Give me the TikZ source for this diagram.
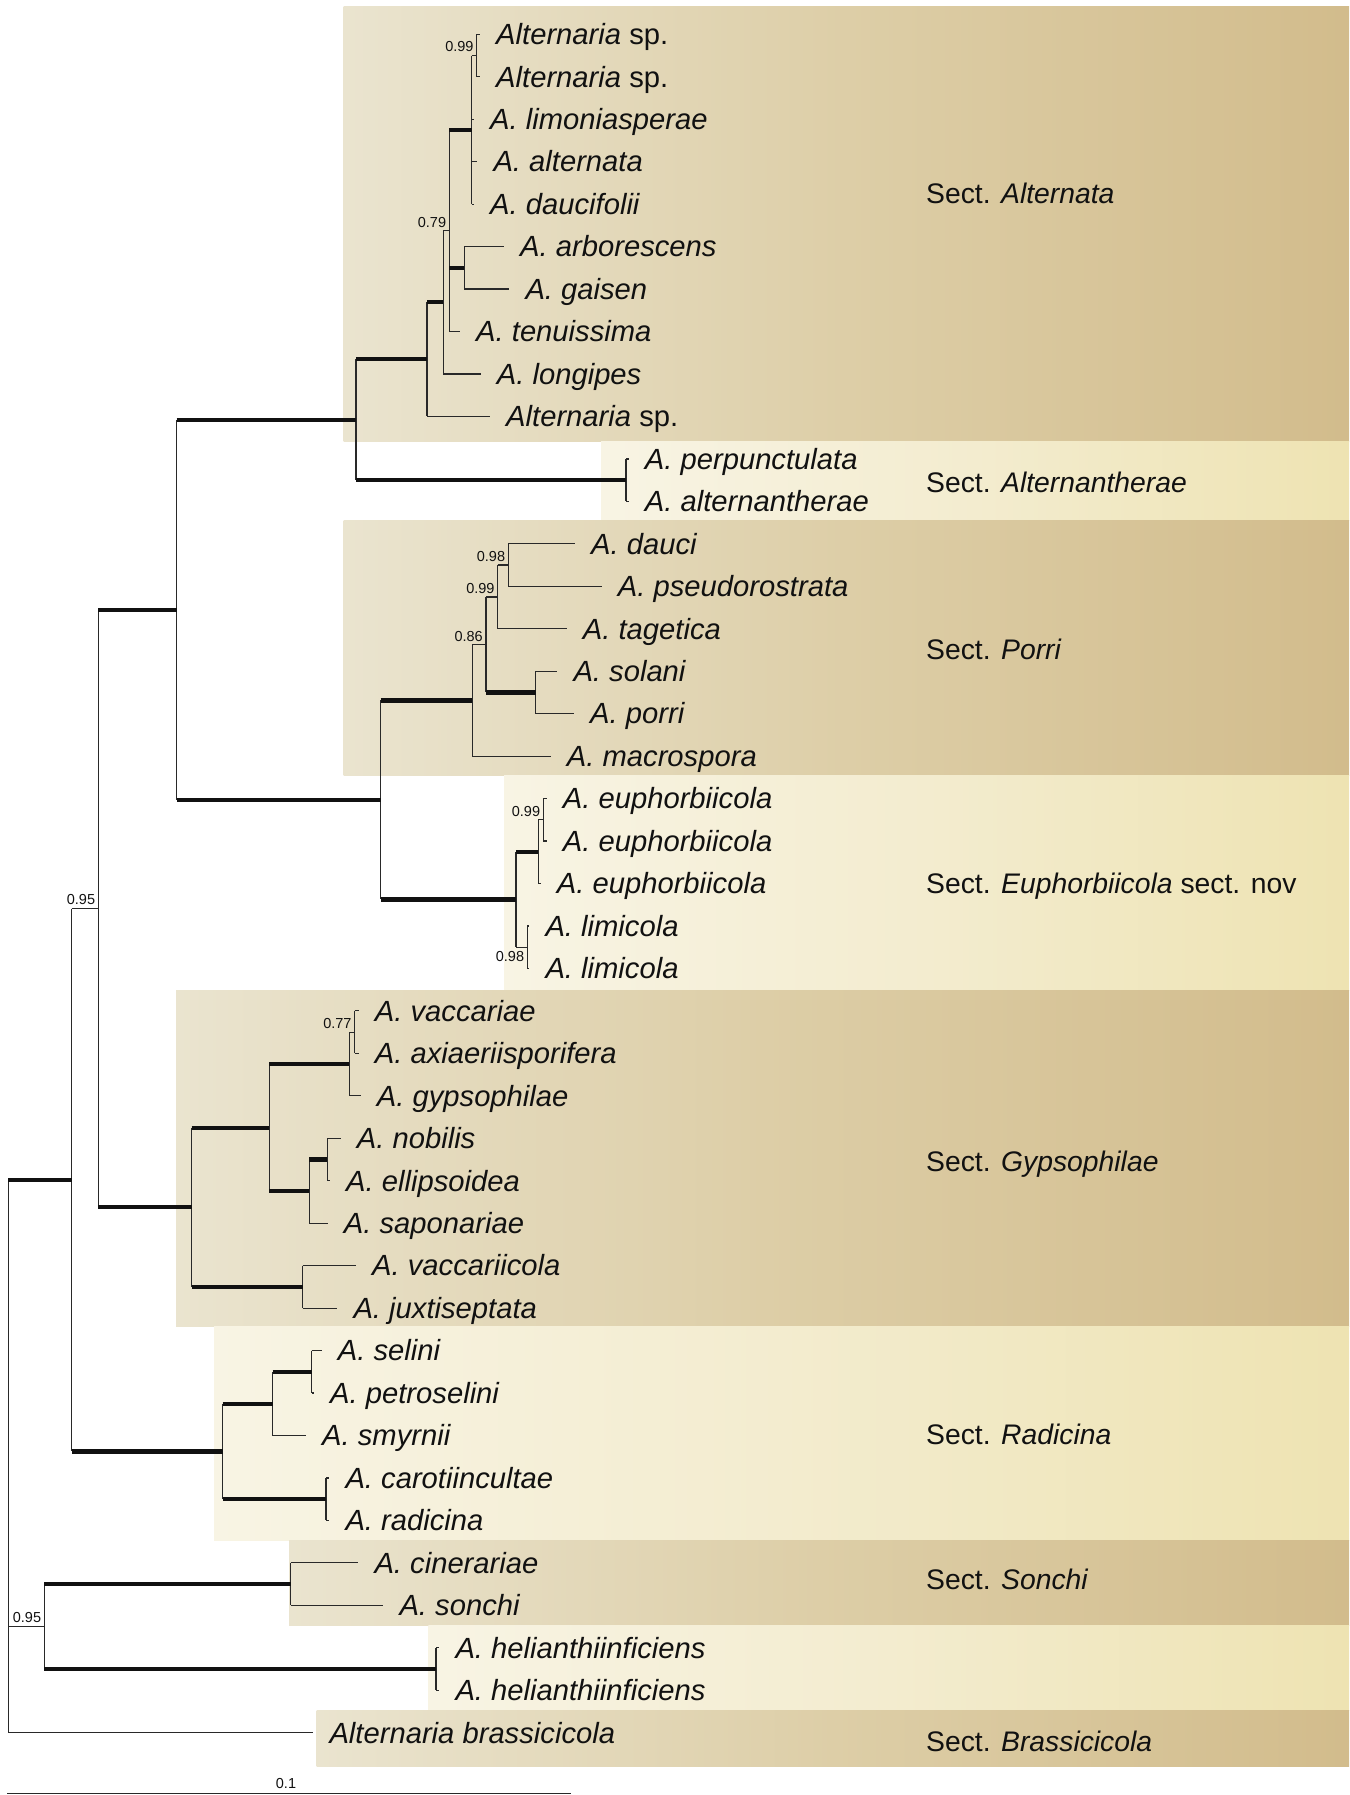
\documentclass[tikz,border=0pt]{standalone}
\usepackage{fontspec}
\setmainfont{Liberation Sans}
\usepackage{xcolor}
\usetikzlibrary{positioning,calc}
\definecolor{ink}{HTML}{111111}
\definecolor{darkL}{HTML}{EAE4CF}
\definecolor{darkM}{HTML}{DDCEA7}
\definecolor{darkR}{HTML}{D2BC8C}
\definecolor{liteL}{HTML}{F8F4E4}
\definecolor{liteM}{HTML}{F3ECCF}
\definecolor{liteR}{HTML}{EEE3B2}

\begin{document}
\begin{tikzpicture}[
  x=1pt, y=-42.46pt,
  taxon/.style = {anchor=west, inner xsep=16pt, inner ysep=0pt, text=ink,
                  font=\fontsize{29.2}{30}\selectfont\itshape,
                  text height=20.6pt, text depth=0pt},
  sect/.style  = {anchor=west, inner sep=0pt, text=ink,
                  font=\fontsize{28.3}{30}\selectfont,
                  text height=20.2pt, text depth=0pt},
  supp/.style  = {anchor=south east, inner sep=0pt, text=ink,
                  font=\fontsize{14.5}{15}\selectfont, xshift=-3pt, yshift=3.3pt},
  band/.style  = {left color=darkL, right color=darkR, middle color=darkM},
  pale/.style  = {left color=liteL, right color=liteR, middle color=liteM},
  thn/.style   = {draw=ink!90, line width=1.2pt},
  thk/.style   = {draw=ink, line width=4.2pt},
]
\useasboundingbox (0,0.1922) rectangle (1349,42.467);

% ---- section bands (x in px, y in rows) -------------------------------
\path[band] (343.6,0.3547) rectangle (1349,10.595);
\path[pale] (601,10.595)   rectangle (1349,12.439);
\path[band] (343.5,12.439) rectangle (1349,18.461);
\path[pale] (504,18.461)   rectangle (1349,23.524);
\path[band] (176,23.524)   rectangle (1349,31.438);
\path[pale] (214,31.438)   rectangle (1349,36.461);
\path[band] (289,36.461)   rectangle (1349,38.48);
\path[pale] (428.3,38.48)  rectangle (1349,40.465);
\path[band] (316.7,40.465) rectangle (1349,41.8);

\node[sect] at (926,4.75)   (sAlt) {Sect. \textit{Alternata}};
\node[sect] at (926,11.555) (sAth) {Sect. \textit{Alternantherae}};
\node[sect] at (926,15.484) (sPor) {Sect. \textit{Porri}};
\node[sect] at (926,21.0)   (sEup) {Sect. \textit{Euphorbiicola} sect. nov};
\node[sect] at (926,27.55)  (sGyp) {Sect. \textit{Gypsophilae}};
\node[sect] at (926,33.965) (sRad) {Sect. \textit{Radicina}};
\node[sect] at (926,37.388) (sSon) {Sect. \textit{Sonchi}};
\node[sect] at (926,41.21)  (sBra) {Sect. \textit{Brassicicola}};

% ---- tips (x = branch end, y = row) -----------------------------------
\node[taxon] at (480,1)    (t1)  {Alternaria \textup{sp.}};
\node[taxon] at (480,2)    (t2)  {Alternaria \textup{sp.}};
\node[taxon] at (474,3)    (t3)  {A. limoniasperae};
\node[taxon] at (477.3,4)  (t4)  {A. alternata};
\node[taxon] at (474,5)    (t5)  {A. daucifolii};
\node[taxon] at (504,6)    (t6)  {A. arborescens};
\node[taxon] at (509.3,7)  (t7)  {A. gaisen};
\node[taxon] at (460,8)    (t8)  {A. tenuissima};
\node[taxon] at (480.7,9)  (t9)  {A. longipes};
\node[taxon] at (490,10)   (t10) {Alternaria \textup{sp.}};
\node[taxon] at (628.7,11) (t11) {A. perpunctulata};
\node[taxon] at (628.7,12) (t12) {A. alternantherae};
\node[taxon] at (575,13)   (t13) {A. dauci};
\node[taxon] at (601.7,14) (t14) {A. pseudorostrata};
\node[taxon] at (566.7,15) (t15) {A. tagetica};
\node[taxon] at (557.3,16) (t16) {A. solani};
\node[taxon] at (574,17)   (t17) {A. porri};
\node[taxon] at (550.7,18) (t18) {A. macrospora};
\node[taxon] at (546.7,19) (t19) {A. euphorbiicola};
\node[taxon] at (546.7,20) (t20) {A. euphorbiicola};
\node[taxon] at (540.7,21) (t21) {A. euphorbiicola};
\node[taxon] at (529.3,22) (t22) {A. limicola};
\node[taxon] at (529.3,23) (t23) {A. limicola};
\node[taxon] at (358.7,24) (t24) {A. vaccariae};
\node[taxon] at (358.7,25) (t25) {A. axiaeriisporifera};
\node[taxon] at (360.7,26) (t26) {A. gypsophilae};
\node[taxon] at (340.7,27) (t27) {A. nobilis};
\node[taxon] at (330,28)   (t28) {A. ellipsoidea};
\node[taxon] at (327.7,29) (t29) {A. saponariae};
\node[taxon] at (356,30)   (t30) {A. vaccariicola};
\node[taxon] at (337.3,31) (t31) {A. juxtiseptata};
\node[taxon] at (321.7,32) (t32) {A. selini};
\node[taxon] at (314,33)   (t33) {A. petroselini};
\node[taxon] at (306,34)   (t34) {A. smyrnii};
\node[taxon] at (329.3,35) (t35) {A. carotiincultae};
\node[taxon] at (329.3,36) (t36) {A. radicina};
\node[taxon] at (358.3,37) (t37) {A. cinerariae};
\node[taxon] at (383.3,38) (t38) {A. sonchi};
\node[taxon] at (439.3,39) (t39) {A. helianthiinficiens};
\node[taxon] at (439.3,40) (t40) {A. helianthiinficiens};
\node[taxon] at (313.3,41) (t41) {Alternaria brassicicola};

% ---- internal nodes (y = mean of outer children) ----------------------
\coordinate (a99)    at (476.7,1.5);
\coordinate (acore)  at (471.7,3.25);
\coordinate (aarg)   at (464.3,6.5);
\coordinate (a79)    at (449.3,5.625);
\coordinate (alon)   at (443.3,7.3125);
\coordinate (acrown) at (427,8.65625);
\coordinate (altn)   at (626,11.5);
\coordinate (aa)     at (356,10.078);
\coordinate (p98)    at (508.3,13.5);
\coordinate (p99)    at (497.7,14.25);
\coordinate (psp)    at (535.7,16.5);
\coordinate (p86)    at (486,15.375);
\coordinate (pcrown) at (472.3,16.6875);
\coordinate (e99)    at (543.3,19.5);
\coordinate (e3)     at (538.3,20.25);
\coordinate (e98)    at (527.3,22.5);
\coordinate (ecrown) at (516,21.375);
\coordinate (pe)     at (380.7,19.031);
\coordinate (top)    at (176.7,14.555);
\coordinate (g77)    at (354.7,24.5);
\coordinate (ga)     at (349.3,25.25);
\coordinate (gnob)   at (327.3,27.5);
\coordinate (gb)     at (309.3,28.25);
\coordinate (gab)    at (269.3,26.75);
\coordinate (gvj)    at (302.7,30.5);
\coordinate (gcrown) at (191.7,28.625);
\coordinate (n95)    at (98.3,21.59);
\coordinate (rsp)    at (311.7,32.5);
\coordinate (rsps)   at (272.7,33.25);
\coordinate (rcr)    at (326,35.5);
\coordinate (rcrown) at (222.7,34.375);
\coordinate (n63)    at (71.7,27.982);
\coordinate (sn)     at (290.7,37.5);
\coordinate (hn)     at (436,39.5);
\coordinate (sh95)   at (44.3,38.5);
\coordinate (root)   at (8.3,34);

% ---- verticals --------------------------------------------------------
\foreach \n/\a/\b in {a99/t1/t2, acore/a99/t5, aarg/t6/t7, a79/acore/t8,
    alon/a79/t9, acrown/alon/t10, altn/t11/t12, aa/acrown/altn,
    p98/t13/t14, p99/p98/t15, psp/t16/t17, p86/p99/psp, pcrown/p86/t18,
    e99/t19/t20, e3/e99/t21, e98/t22/t23, ecrown/e3/e98, pe/pcrown/ecrown,
    top/aa/pe, g77/t24/t25, ga/g77/t26, gnob/t27/t28, gb/gnob/t29,
    gab/ga/gb, gvj/t30/t31, gcrown/gab/gvj, n95/top/gcrown,
    rsp/t32/t33, rsps/rsp/t34, rcr/t35/t36, rcrown/rsps/rcr,
    n63/n95/rcrown, sn/t37/t38, hn/t39/t40, sh95/sn/hn, root/n63/t41}
  \draw[thn] (\n |- \a) -- (\n |- \b);

% ---- weak branches ----------------------------------------------------
\foreach \p/\c in {a99/t1, a99/t2, acore/a99, acore/t3, acore/t4, acore/t5,
    aarg/t6, aarg/t7, a79/t8, alon/a79, alon/t9, acrown/t10, altn/t11, altn/t12,
    pcrown/p86, pcrown/t18, p86/p99, p99/p98, p99/t15, p98/t13, p98/t14,
    psp/t16, psp/t17, ecrown/e98, e3/e99, e3/t21, e99/t19, e99/t20,
    e98/t22, e98/t23, n63/n95, ga/g77, ga/t26, g77/t24, g77/t25,
    gb/t29, gnob/t27, gnob/t28, gvj/t30, gvj/t31, rsps/t34, rsp/t32, rsp/t33,
    rcr/t35, rcr/t36, root/sh95, root/t41, sn/t37, sn/t38, hn/t39, hn/t40}
  \draw[thn] (\p |- \c) -- (\c);

% ---- well supported branches (bold) -----------------------------------
\foreach \p/\c in {a79/acore, a79/aarg, acrown/alon, aa/acrown, aa/altn,
    top/aa, top/pe, pe/pcrown, pe/ecrown, p86/psp, ecrown/e3,
    n95/top, n95/gcrown, gcrown/gab, gcrown/gvj, gab/ga, gab/gb, gb/gnob,
    n63/rcrown, rcrown/rsps, rcrown/rcr, rsps/rsp, root/n63, sh95/sn, sh95/hn}
  \draw[thk] (\p |- \c) -- (\c);

% ---- posterior probabilities -------------------------------------------
\node[supp] at (a99)  (pp1)  {0.99};
\node[supp] at (a79)  (pp2)  {0.79};
\node[supp] at (p98)  (pp3)  {0.98};
\node[supp] at (p99)  (pp4)  {0.99};
\node[supp] at (p86)  (pp5)  {0.86};
\node[supp] at (e99)  (pp6)  {0.99};
\node[supp, anchor=north east, yshift=-7pt] at (e98) (pp7) {0.98};
\node[supp] at (g77)  (pp8)  {0.77};
\node[supp] at (n95)  (pp9)  {0.95};
\node[supp] at (sh95) (pp10) {0.95};

% ---- scale ------------------------------------------------------------
\coordinate (sb0) at (7.3,42.43);
\coordinate (sb1) at (570.7,42.43);
\draw[thn] (sb0) -- (sb1);
\node[supp, anchor=south, xshift=0pt, yshift=1.5pt] at ($(sb0)!.5!(sb1)$) (sbl) {0.1};

\end{tikzpicture}
\end{document}
